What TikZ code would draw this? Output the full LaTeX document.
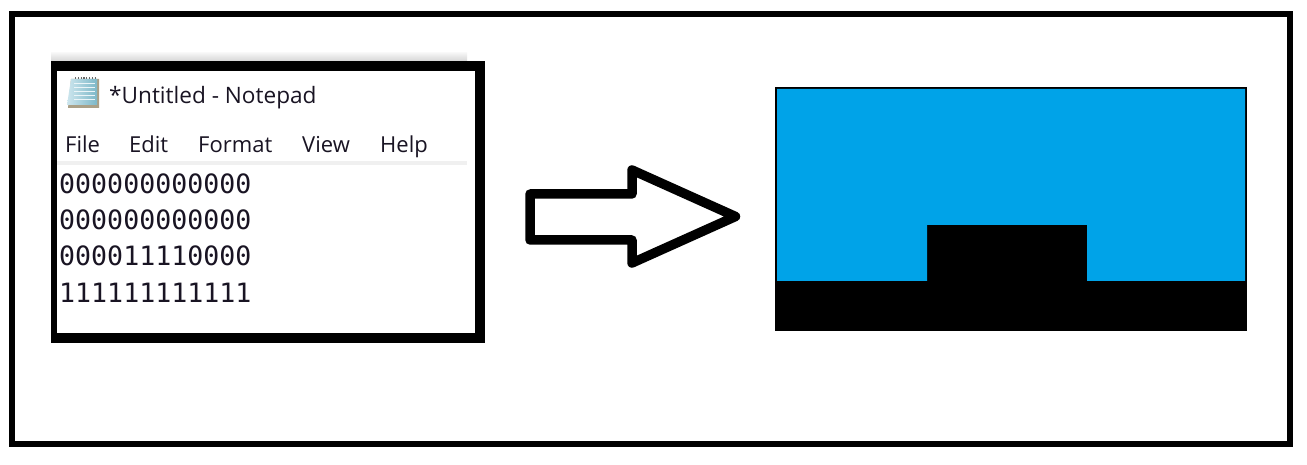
\documentclass[tikz,border=0pt]{standalone}
\usepackage{fontspec}
\setmainfont{Open Sans}
\newfontfamily\monofnt{DejaVu Sans Mono}
\definecolor{sky}{RGB}{0,163,232}
\definecolor{rulegrey}{RGB}{240,240,240}
\definecolor{iconlight}{RGB}{205,230,238}
\definecolor{icondark}{RGB}{125,184,200}
\definecolor{iconedge}{RGB}{170,160,135}
\definecolor{inkdark}{RGB}{25,20,35}
\tikzset{
  x=1pt,y=-1pt,
  menuitem/.style={anchor=base west,inner sep=0pt,font=\fontsize{22}{26}\selectfont,text=inkdark},
  titletext/.style={anchor=base west,inner sep=0pt,font=\fontsize{22.6}{26}\selectfont,text=inkdark},
  codeline/.style={anchor=base west,inner sep=0pt,font=\monofnt\fontsize{26.6}{30}\selectfont,text=inkdark},
}
\begin{document}
\begin{tikzpicture}
\useasboundingbox (0,0) rectangle (1307,465);
\fill[white] (0,0) rectangle (1307,465);
\draw[black,line width=6pt] (12,14) rectangle (1290,444);
% notepad
\shade[top color=white!96!black,bottom color=white!84!black] (51,53) rectangle (467,61);
\fill[black] (51,61) rectangle (485,343);
\fill[white] (57,71) rectangle (475,333);
\fill[rulegrey] (57,161) rectangle (467,165);
% icon
\fill[iconedge] (71,79) -- (99,79) -- (99,108) -- (68,108) -- cycle;
\shade[left color=iconlight,right color=icondark] (71,79) -- (97,79) -- (97,105) -- (67,105) -- cycle;
\foreach \yy in {84,88,92,96,100}{\draw[white!60!iconlight,line width=1pt] (74,\yy) -- (95,\yy);}
\draw[black!60,line width=1.4pt,dash pattern=on 1.2pt off 1.6pt] (75,78) -- (96,78);
\node[titletext] (title) at (109,104) {*Untitled - Notepad};
\node[menuitem] (mfile) at (65,153) {File};
\node[menuitem] (medit) at (129,153) {Edit};
\node[menuitem] (mformat) at (198,153) {Format};
\node[menuitem] (mview) at (302,153) {View};
\node[menuitem] (mhelp) at (380,153) {Help};
\node[codeline] (l1) at (59,193.5) {000000000000};
\node[codeline] (l2) at (59,229.5) {000000000000};
\node[codeline] (l3) at (59,265.5) {000011110000};
\node[codeline] (l4) at (59,302.5) {111111111111};
% arrow
\draw[black,line width=9.5pt,line join=round,fill=white] (530,194) -- (632,194) -- (632,170) -- (735.5,216.5) -- (632,263) -- (632,240) -- (530,240) -- cycle;
% result
\fill[black] (775,87) rectangle (1247,331);
\fill[sky] (777,89) -- (1245,89) -- (1245,281) -- (1087,281) -- (1087,225) -- (927,225) -- (927,281) -- (777,281) -- cycle;
\end{tikzpicture}
\end{document}
